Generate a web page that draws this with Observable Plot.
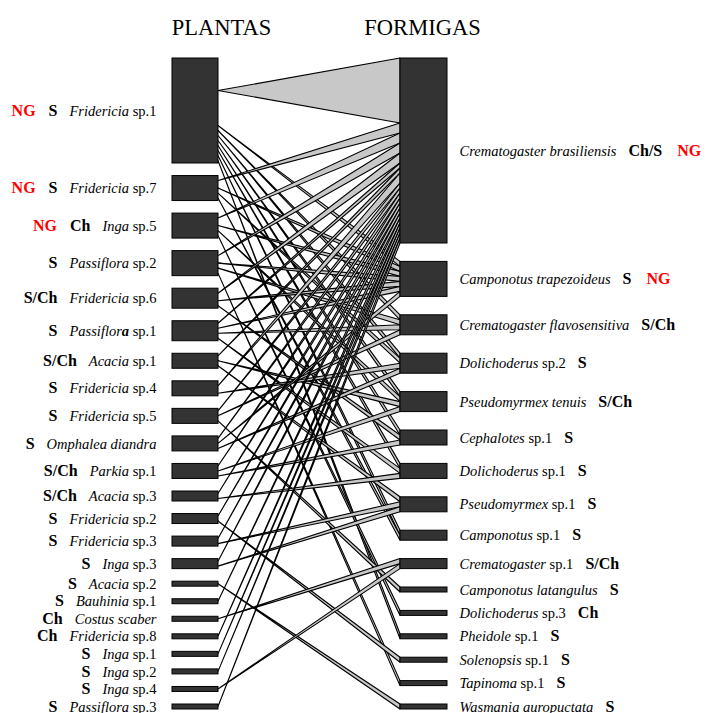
<!DOCTYPE html>
<html><head><meta charset="utf-8">
<script src="https://cdn.jsdelivr.net/npm/d3@7"></script>
<script src="https://cdn.jsdelivr.net/npm/@observablehq/plot@0.6"></script>
<style>body{margin:0;background:#fff}</style>
</head><body><div id="chart"></div>
<script>
// ---- data ----
const plantGenus = ["Fridericia","Fridericia","Inga","Passiflora","Fridericia","Passiflora","Acacia","Fridericia","Fridericia","Omphalea diandra","Parkia","Acacia","Fridericia","Fridericia","Inga","Acacia","Bauhinia","Costus scaber","Fridericia","Inga","Inga","Inga","Passiflora"];
const plantSp = ["sp.1","sp.7","sp.5","sp.2","sp.6","sp.1","sp.1","sp.4","sp.5","","sp.1","sp.3","sp.2","sp.3","sp.3","sp.2","sp.1","","sp.8","sp.1","sp.2","sp.4","sp.3"];
const plantCode = ["S","S","Ch","S","S/Ch","S","S/Ch","S","S","S","S/Ch","S/Ch","S","S","S","S","S","Ch","Ch","S","S","S","S"];
const plantNG = [1,1,1,0,0,0,0,0,0,0,0,0,0,0,0,0,0,0,0,0,0,0,0];

const antGenus = ["Crematogaster brasiliensis","Camponotus trapezoideus","Crematogaster flavosensitiva","Dolichoderus","Pseudomyrmex tenuis","Cephalotes","Dolichoderus","Pseudomyrmex","Camponotus","Crematogaster","Camponotus latangulus","Dolichoderus","Pheidole","Solenopsis","Tapinoma","Wasmania auropuctata"];
const antSp = ["","","","sp.2","","sp.1","sp.1","sp.1","sp.1","sp.1","","sp.3","sp.1","sp.1","sp.1",""];
const antCode = ["Ch/S","S","S/Ch","S","S/Ch","S","S","S","S","S/Ch","S","Ch","S","S","S","S"];
const antNG = [1,1,0,0,0,0,0,0,0,0,0,0,0,0,0,0];

const linkPlant = [
 "Fridericia sp.1","Fridericia sp.1","Fridericia sp.1","Fridericia sp.1","Fridericia sp.1","Fridericia sp.1","Fridericia sp.1","Fridericia sp.1","Fridericia sp.1",
 "Fridericia sp.7","Fridericia sp.7","Fridericia sp.7","Fridericia sp.7",
 "Inga sp.5","Inga sp.5","Inga sp.5","Inga sp.5",
 "Passiflora sp.2","Passiflora sp.2","Passiflora sp.2","Passiflora sp.2",
 "Fridericia sp.6","Fridericia sp.6","Fridericia sp.6",
 "Passiflora sp.1","Passiflora sp.1","Passiflora sp.1","Passiflora sp.1",
 "Acacia sp.1","Acacia sp.1","Acacia sp.1",
 "Fridericia sp.4","Fridericia sp.4",
 "Fridericia sp.5","Fridericia sp.5","Fridericia sp.5",
 "Omphalea diandra","Omphalea diandra","Omphalea diandra",
 "Parkia sp.1","Parkia sp.1","Parkia sp.1",
 "Acacia sp.3","Acacia sp.3",
 "Fridericia sp.2","Fridericia sp.2",
 "Fridericia sp.3","Fridericia sp.3",
 "Inga sp.3","Inga sp.3",
 "Acacia sp.2","Bauhinia sp.1","Costus scaber","Fridericia sp.8","Inga sp.1","Inga sp.2","Inga sp.4","Passiflora sp.3"];
const linkAnt = [
 "Crematogaster brasiliensis","Camponotus trapezoideus","Crematogaster flavosensitiva","Dolichoderus sp.2","Pseudomyrmex tenuis","Cephalotes sp.1","Dolichoderus sp.1","Camponotus sp.1","Pheidole sp.1",
 "Crematogaster brasiliensis","Camponotus trapezoideus","Dolichoderus sp.2","Camponotus sp.1",
 "Crematogaster brasiliensis","Camponotus trapezoideus","Pseudomyrmex tenuis","Dolichoderus sp.3",
 "Crematogaster brasiliensis","Camponotus trapezoideus","Crematogaster flavosensitiva","Tapinoma sp.1",
 "Crematogaster brasiliensis","Camponotus trapezoideus","Cephalotes sp.1",
 "Crematogaster brasiliensis","Camponotus trapezoideus","Crematogaster flavosensitiva","Dolichoderus sp.1",
 "Crematogaster brasiliensis","Pseudomyrmex tenuis","Pseudomyrmex sp.1",
 "Crematogaster brasiliensis","Dolichoderus sp.2",
 "Crematogaster brasiliensis","Crematogaster flavosensitiva","Camponotus latangulus",
 "Crematogaster brasiliensis","Camponotus trapezoideus","Dolichoderus sp.2",
 "Crematogaster brasiliensis","Pseudomyrmex tenuis","Cephalotes sp.1",
 "Crematogaster brasiliensis","Dolichoderus sp.1",
 "Crematogaster brasiliensis","Solenopsis sp.1",
 "Crematogaster brasiliensis","Pseudomyrmex sp.1",
 "Crematogaster brasiliensis","Pseudomyrmex sp.1",
 "Wasmania auropuctata","Crematogaster brasiliensis","Crematogaster sp.1","Crematogaster brasiliensis","Crematogaster brasiliensis","Crematogaster brasiliensis","Crematogaster sp.1","Crematogaster brasiliensis"];
const linkWeight = [
 13,1,1,1,1,1,1,1,1,
 2,1,1,1,
 2,1,1,1,
 2,1,1,1,
 2,1,1,
 1,1,1,1,
 1,1,1,
 2,1,
 1,1,1,
 1,1,1,
 1,1,1,
 1,1,
 1,1,
 1,1,
 1,1,
 1,1,1,1,1,1,1,1];

// ---- layout (derived from the data) ----
const plantNames = plantGenus.map((g,i)=> plantSp[i] ? g + " " + plantSp[i] : g);
const antNames = antGenus.map((g,i)=> antSp[i] ? g + " " + antSp[i] : g);
const links = linkPlant.map((p,i)=>({plant:p, ant:linkAnt[i], w:linkWeight[i], id:i}));
const pIdx = new Map(plantNames.map((n,i)=>[n,i]));
const aIdx = new Map(antNames.map((n,i)=>[n,i]));

const yTop = 58, yBottom = 709, unit = 5;
const xPlant = [172, 218], xAnt = [400, 447];

function stack(names, key) {
  const sums = names.map(n => d3.sum(links.filter(l=>l[key]===n), l=>l.w));
  const total = d3.sum(sums);
  const gap = (yBottom - yTop - total*unit)/(names.length-1);
  let y = yTop;
  return names.map((n,i)=>{ const b = {name:n, i, w:sums[i], y1:y, y2:y+sums[i]*unit}; y = b.y2 + gap; return b; });
}
const plantBoxes = stack(plantNames, "plant");
const antBoxes = stack(antNames, "ant");

const leftY = new Map(), rightY = new Map();
plantBoxes.forEach(b=>{
  const ls = links.filter(l=>l.plant===b.name).sort((a,c)=>aIdx.get(a.ant)-aIdx.get(c.ant));
  let c = 0;
  ls.forEach(l=>{ leftY.set(l.id, b.y1 + (c + l.w/2)*unit); c += l.w; });
});
antBoxes.forEach(b=>{
  const ls = links.filter(l=>l.ant===b.name).sort((a,c)=>pIdx.get(a.plant)-pIdx.get(c.plant));
  let c = 0;
  ls.forEach(l=>{ rightY.set(l.id, [b.y1 + c*unit, b.y1 + (c+l.w)*unit]); c += l.w; });
});
const linkRows = links.flatMap(l=>[
  {id:l.id, x:xPlant[1], y1:leftY.get(l.id), y2:leftY.get(l.id)},
  {id:l.id, x:xAnt[0], y1:rightY.get(l.id)[0], y2:rightY.get(l.id)[1]}
]);

const titles = [{t:"PLANTAS", x:221, y:27},{t:"FORMIGAS", x:422, y:27}];
const plantLabels = plantBoxes.map(b=>({y:(b.y1+b.y2)/2, t:b.name, i:b.i}));
const antLabels = antBoxes.map(b=>({y:(b.y1+b.y2)/2, t:b.name, i:b.i}));

const chart = Plot.plot({
  width: 707, height: 713,
  marginTop:0, marginBottom:0, marginLeft:0, marginRight:0,
  x: {domain:[0,707], range:[0,707], axis:null},
  y: {domain:[0,713], range:[0,713], axis:null},
  style: {fontFamily:"'Liberation Serif', 'Times New Roman', serif", background:"#fff", color:"#000"},
  marks: [
    Plot.area(linkRows, {x1:"x", y1:"y1", y2:"y2", z:"id", fill:"#c8c8c8", stroke:"#000", strokeWidth:1.1, strokeLinejoin:"miter"}),
    Plot.rect(plantBoxes, {x1:xPlant[0], x2:xPlant[1], y1:"y1", y2:"y2", fill:"#333333", stroke:"#000", strokeWidth:1}),
    Plot.rect(antBoxes, {x1:xAnt[0], x2:xAnt[1], y1:"y1", y2:"y2", fill:"#333333", stroke:"#000", strokeWidth:1}),
    Plot.text(titles, {x:"x", y:"y", text:"t", fontSize:22.5, fill:"#000"}),
    Plot.text(plantLabels, {x:156, y:"y", text:"t", textAnchor:"end", fontSize:14.5, fill:"#000"}),
    Plot.text(antLabels, {x:459, y:"y", text:"t", textAnchor:"start", fontSize:14.5, fill:"#000"})
  ]
});
document.getElementById("chart").appendChild(chart);

// rich text: italic genus, upright "sp.", bold codes, red NG
const plantMap = new Map(plantNames.map((n,i)=>[n,i]));
const antMap = new Map(antNames.map((n,i)=>[n,i]));
chart.querySelectorAll("text").forEach(node => {
  const s = node.textContent;
  let isPlant;
  if (plantMap.has(s)) isPlant = true; else if (antMap.has(s)) isPlant = false; else return;
  const i = isPlant ? plantMap.get(s) : antMap.get(s);
  const sel = d3.select(node);
  sel.text(null);
  const add = (t, o={}) => {
    const ts = sel.append("tspan").text(t);
    if (o.italic) ts.attr("font-style","italic");
    if (o.bold) ts.attr("font-weight","bold");
    if (o.fill) ts.attr("fill", o.fill);
    if (o.size) ts.attr("font-size", o.size);
    if (o.dx) ts.attr("dx", o.dx);
    return ts;
  };
  const genus = isPlant ? plantGenus[i] : antGenus[i];
  const sp = isPlant ? plantSp[i] : antSp[i];
  const code = isPlant ? plantCode[i] : antCode[i];
  const ng = isPlant ? plantNG[i] : antNG[i];
  const addName = (dx) => {
    if (isPlant && genus === "Passiflora" && sp === "sp.1") {
      add("Passiflor", {italic:true, dx});
      add("a", {italic:true, bold:true});
    } else add(genus, {italic:true, dx});
    if (sp) add(" " + sp);
  };
  if (isPlant) {
    if (ng) { add("NG", {bold:true, fill:"#ff0000", size:16}); add(code, {bold:true, size:16, dx:13}); }
    else add(code, {bold:true, size:16});
    addName(12);
  } else {
    addName(0);
    add(code, {bold:true, size:16, dx:12});
    if (ng) add("NG", {bold:true, fill:"#ff0000", size:16, dx:15});
  }
});
</script>
</body></html>
